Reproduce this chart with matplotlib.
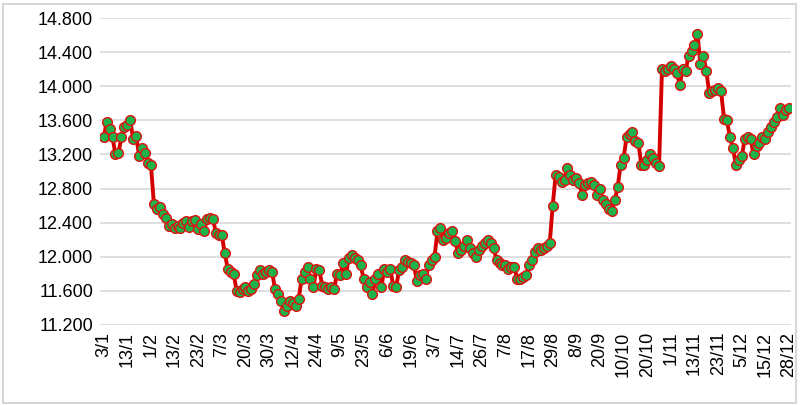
import matplotlib
matplotlib.use("Agg")
import matplotlib.pyplot as plt
from matplotlib.patches import Rectangle

values = [
13.40,13.58,13.50,13.40,13.20,13.22,13.40,13.52,
13.55,13.60,13.38,13.42,13.18,13.28,13.22,13.10,
13.08,12.62,12.56,12.58,12.50,12.45,12.36,12.38,
12.34,12.36,12.34,12.40,12.42,12.35,12.42,12.43,
12.32,12.38,12.30,12.44,12.46,12.44,12.28,12.26,
12.25,12.04,11.86,11.82,11.80,11.60,11.58,11.62,
11.64,11.60,11.62,11.68,11.78,11.84,11.80,11.82,
11.84,11.82,11.62,11.56,11.48,11.36,11.42,11.48,
11.46,11.42,11.50,11.74,11.82,11.88,11.74,11.64,
11.86,11.84,11.66,11.64,11.62,11.64,11.62,11.80,
11.78,11.92,11.80,11.98,12.02,11.98,11.96,11.90,
11.74,11.64,11.70,11.56,11.74,11.80,11.64,11.86,
11.82,11.86,11.66,11.64,11.84,11.88,11.96,11.94,
11.92,11.90,11.72,11.78,11.80,11.74,11.90,11.96,
12.00,12.30,12.34,12.20,12.22,12.28,12.30,12.18,
12.04,12.08,12.12,12.20,12.10,12.04,12.00,12.08,
12.12,12.16,12.20,12.16,12.10,11.96,11.92,11.90,
11.90,11.86,11.88,11.88,11.74,11.74,11.76,11.78,
11.90,11.96,12.06,12.10,12.08,12.10,12.12,12.16,
12.60,12.96,12.94,12.88,12.90,13.04,12.96,12.90,
12.92,12.86,12.72,12.84,12.86,12.88,12.84,12.72,
12.80,12.66,12.62,12.56,12.54,12.66,12.82,13.08,
13.16,13.40,13.44,13.46,13.36,13.34,13.08,13.08,
13.14,13.20,13.16,13.10,13.06,14.20,14.18,14.20,
14.24,14.20,14.16,14.02,14.20,14.18,14.36,14.42,
14.48,14.62,14.26,14.36,14.18,13.92,13.94,13.96,
13.98,13.94,13.62,13.60,13.40,13.28,13.08,13.14,
13.18,13.38,13.40,13.38,13.20,13.30,13.34,13.40,
13.38,13.46,13.52,13.58,13.64,13.74,13.66,13.72,
13.74]
tick_labels = ["3/1","13/1","1/2","13/2","23/2","7/3","20/3","30/3","12/4","24/4",
"9/5","23/5","6/6","19/6","3/7","14/7","26/7","7/8","17/8","29/8",
"8/9","20/9","10/10","20/10","1/11","13/11","23/11","5/12","15/12","28/12"]
yticks = [11.2,11.6,12.0,12.4,12.8,13.2,13.6,14.0,14.4,14.8]

fig = plt.figure(figsize=(8.01,4.05), dpi=100)
fig.patches.append(Rectangle((0.004,0.006),0.99,0.985, transform=fig.transFigure,
                             fill=False, edgecolor="#d0d0d0", lw=1.2))
ax = fig.add_axes([0.125,0.198,0.863,0.757])
x = list(range(len(values)))
ax.plot(x, values, color="#d40000", lw=2.8, marker="o", ms=7,
        markerfacecolor="#1db34a", markeredgecolor="#e01010", markeredgewidth=1.0, zorder=3)
ax.set_ylim(11.2,14.8)
ax.set_xlim(-1.2, len(values)-0.2)
ax.set_yticks(yticks)
ax.set_yticklabels([f"{v:.3f}" for v in yticks], fontsize=13, family="Liberation Sans")
ax.set_xticks(list(range(0,len(values),8)))
ax.set_xticklabels(tick_labels, rotation=90, fontsize=13, family="Liberation Sans")
ax.grid(axis="y", color="#d9d9d9", lw=1.2)
ax.set_axisbelow(True)
for s in ax.spines.values():
    s.set_visible(False)
ax.tick_params(length=0, pad=5)
fig.savefig("out.png", dpi=100)
